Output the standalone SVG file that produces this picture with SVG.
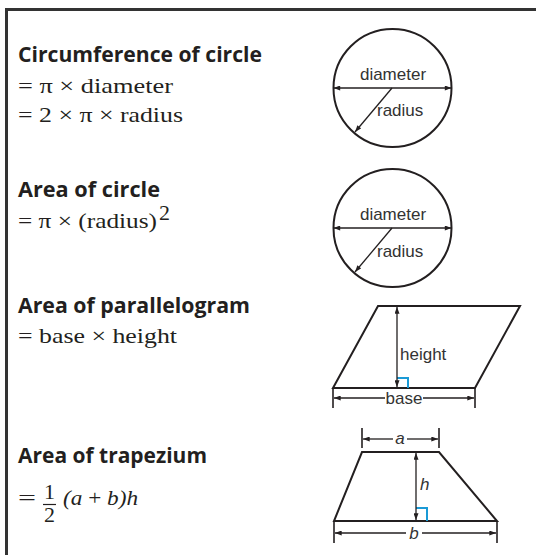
<svg xmlns="http://www.w3.org/2000/svg" width="536" height="555" viewBox="0 0 536 555">
<defs>
<style>
.frame{stroke:#333;stroke-width:3;fill:none}
.h{font-family:"Open Sans","Liberation Sans",sans-serif;font-weight:bold;font-size:21px;fill:#231f20}
.f{font-family:"Liberation Serif","Times New Roman",serif;font-size:22px;fill:#231f20}
.fi{font-style:italic}
.lbl{font-family:"Liberation Sans",Arial,sans-serif;font-size:17px;fill:#333}
.shape{stroke:#231f20;stroke-width:2;fill:none}
.dim{stroke:#231f20;stroke-width:1.3;fill:none}
.tick{stroke:#231f20;stroke-width:1.6;fill:none}
.ra{stroke:#1a9ad6;stroke-width:2;fill:none}
</style>
<marker id="arr" viewBox="0 0 8 6" refX="8" refY="3" markerWidth="8" markerHeight="5" markerUnits="userSpaceOnUse" orient="auto-start-reverse">
<path d="M0,0 L8,3 L0,6 z" fill="#231f20"/>
</marker>
</defs>
<rect width="536" height="555" fill="#fff"/>
<path class="frame" d="M6.5,555 L6.5,9.5 L536,9.5"/>

<g id="text-circumference">
<text class="h" x="18" y="62" textLength="244" lengthAdjust="spacingAndGlyphs">Circumference of circle</text>
<text class="f" x="18" y="93" textLength="155" lengthAdjust="spacingAndGlyphs">= π × diameter</text>
<text class="f" x="18" y="122" textLength="165" lengthAdjust="spacingAndGlyphs">= 2 × π × radius</text>
</g>
<g id="text-area-circle">
<text class="h" x="18" y="197" textLength="142" lengthAdjust="spacingAndGlyphs">Area of circle</text>
<text class="f" x="18" y="228" textLength="139" lengthAdjust="spacingAndGlyphs">= π × (radius)</text>
<text class="f" x="159" y="220" font-size="13">2</text>
</g>
<g id="text-parallelogram">
<text class="h" x="18" y="313" textLength="232" lengthAdjust="spacingAndGlyphs">Area of parallelogram</text>
<text class="f" x="18" y="343" textLength="159" lengthAdjust="spacingAndGlyphs">= base × height</text>
</g>
<g id="text-trapezium">
<text class="h" x="18" y="463" textLength="189" lengthAdjust="spacingAndGlyphs">Area of trapezium</text>
<text class="f" x="18" y="505" textLength="18" lengthAdjust="spacingAndGlyphs">=</text>
<text class="f" x="49.5" y="499" font-size="16" text-anchor="middle">1</text>
<line x1="43" y1="504.5" x2="56" y2="504.5" stroke="#231f20" stroke-width="1.2"/>
<text class="f" x="49.5" y="522" font-size="16" text-anchor="middle">2</text>
<text class="f" x="63" y="505" textLength="75" lengthAdjust="spacingAndGlyphs"><tspan class="fi">(a</tspan> + <tspan class="fi">b)h</tspan></text>
</g>

<g id="circle1">
<circle class="shape" cx="392.5" cy="88" r="59"/>
<text class="lbl" x="393" y="80" text-anchor="middle">diameter</text>
<text class="lbl" x="377" y="116">radius</text>
</g>
<g id="circle2">
<circle class="shape" cx="392.5" cy="228" r="59"/>
<text class="lbl" x="393" y="220" text-anchor="middle">diameter</text>
<text class="lbl" x="377" y="257">radius</text>
</g>
<g id="parallelogram">
<polygon class="shape" points="378,306 520,306 475,388 333,388"/>
<polyline class="ra" points="397,378 408,378 408,388"/>
<text class="lbl" x="400" y="360">height</text>
<text class="lbl" x="404" y="404" font-size="16" text-anchor="middle">base</text>
</g>
<g id="trapezium">
<polygon class="shape" points="362,452 439,452 497,521 334,521"/>
<polyline class="ra" points="416,508 427,508 427,521"/>
<text class="lbl" x="400" y="444" text-anchor="middle" font-style="italic">a</text>
<text class="lbl" x="420" y="490" font-style="italic">h</text>
<text class="lbl" x="414" y="539" text-anchor="middle" font-style="italic">b</text>
</g>

<g id="connectors">
<line class="dim" x1="333.5" y1="88" x2="451.5" y2="88" marker-start="url(#arr)" marker-end="url(#arr)"/>
<line class="dim" x1="392" y1="88" x2="355" y2="132" marker-end="url(#arr)"/>
<line class="dim" x1="333.5" y1="228" x2="451.5" y2="228" marker-start="url(#arr)" marker-end="url(#arr)"/>
<line class="dim" x1="392" y1="228" x2="355" y2="272" marker-end="url(#arr)"/>
<line class="dim" x1="397" y1="307" x2="397" y2="387" marker-start="url(#arr)" marker-end="url(#arr)"/>
<line class="tick" x1="333" y1="388" x2="333" y2="408"/>
<line class="tick" x1="475" y1="388" x2="475" y2="408"/>
<line class="dim" x1="385" y1="398" x2="334" y2="398" marker-end="url(#arr)"/>
<line class="dim" x1="423" y1="398" x2="474" y2="398" marker-end="url(#arr)"/>
<line class="tick" x1="362" y1="428" x2="362" y2="448"/>
<line class="tick" x1="439" y1="428" x2="439" y2="448"/>
<line class="dim" x1="393" y1="439" x2="363" y2="439" marker-end="url(#arr)"/>
<line class="dim" x1="407" y1="439" x2="438" y2="439" marker-end="url(#arr)"/>
<line class="dim" x1="416" y1="453" x2="416" y2="520" marker-start="url(#arr)" marker-end="url(#arr)"/>
<line class="tick" x1="334" y1="521" x2="334" y2="543"/>
<line class="tick" x1="497" y1="521" x2="497" y2="543"/>
<line class="dim" x1="406" y1="533" x2="335" y2="533" marker-end="url(#arr)"/>
<line class="dim" x1="422" y1="533" x2="496" y2="533" marker-end="url(#arr)"/>
</g>
</svg>
